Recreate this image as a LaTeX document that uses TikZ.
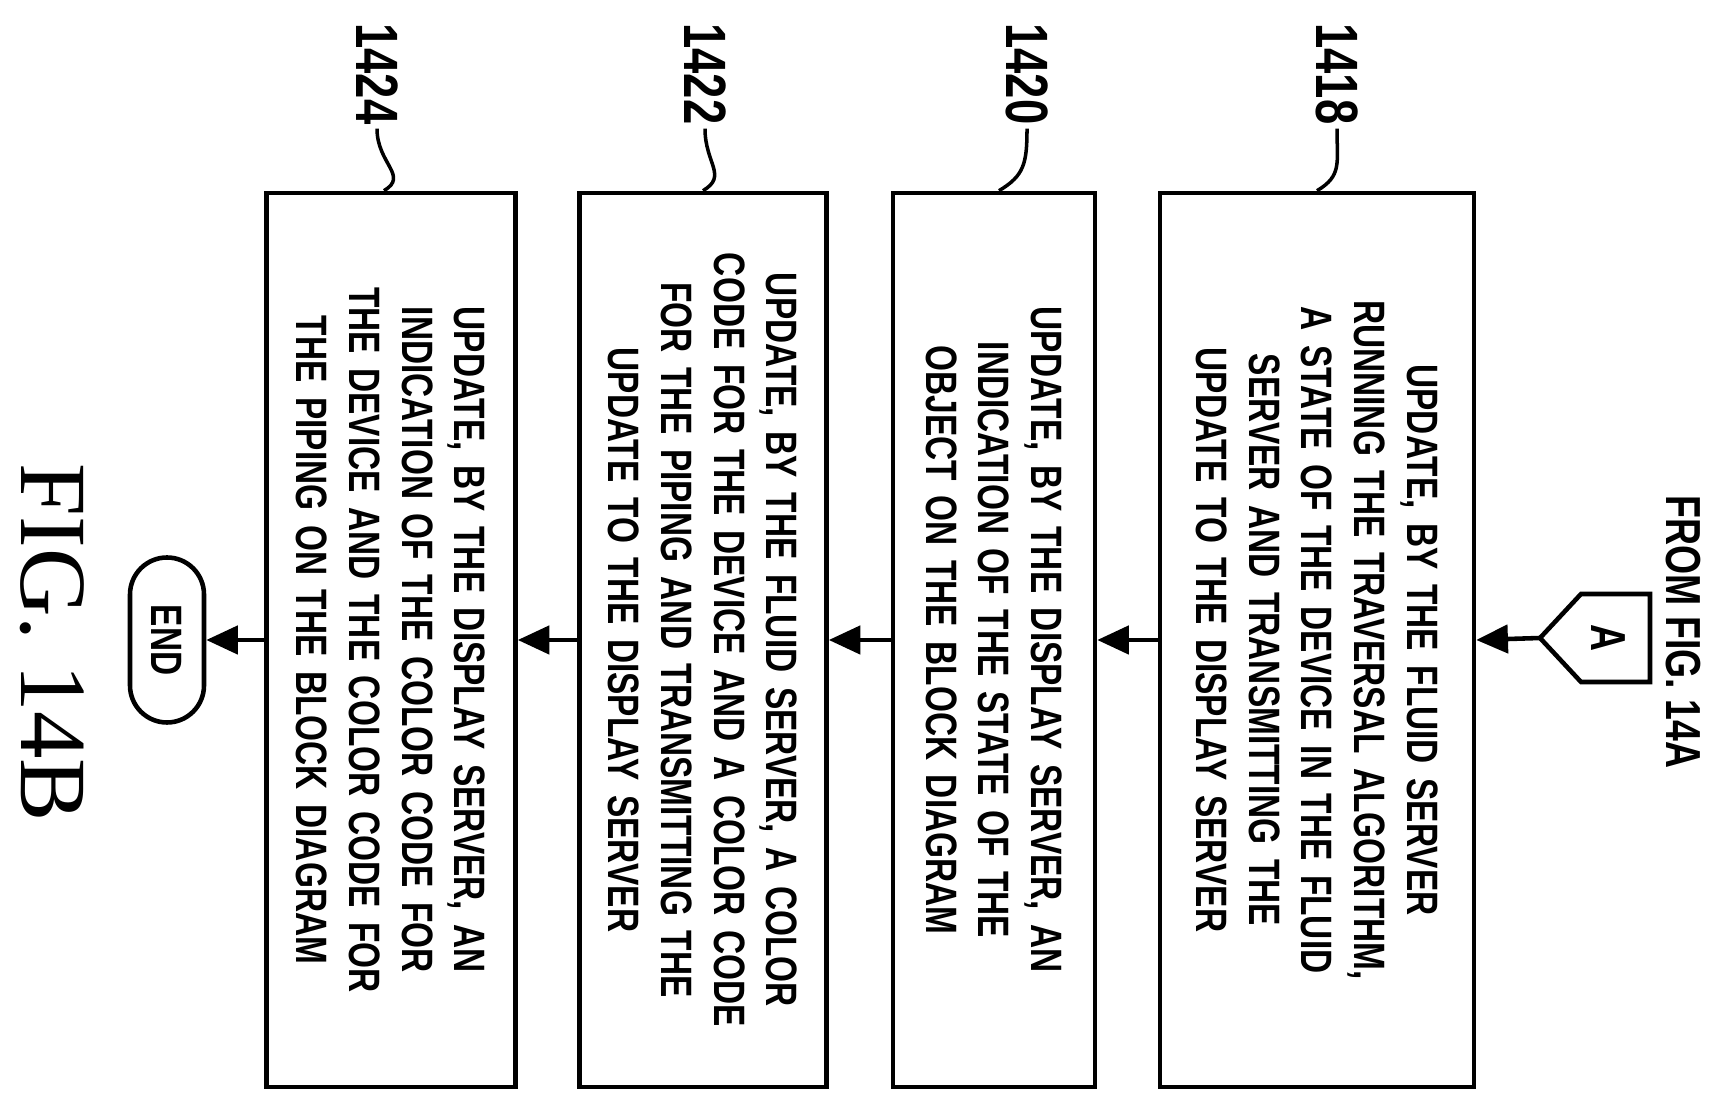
\documentclass[tikz,border=0pt]{standalone}
\usepackage{fontspec}
\setmainfont{Liberation Serif}
\newfontfamily\narrowfont[FakeStretch=0.76]{Liberation Sans}
\usetikzlibrary{arrows.meta, positioning, calc}

\begin{document}
\begin{tikzpicture}[
  stepbox/.style={draw, line width=1.3pt, rotate=-90, minimum width=8.94cm,
               text width=8.6cm, align=center, inner sep=0pt,
               font=\narrowfont\bfseries\fontsize{12.5}{15}\selectfont},
  ref/.style={rotate=-90, font=\narrowfont\bfseries\fontsize{17}{17}\selectfont, inner sep=1pt},
  arr/.style={-{Triangle[length=9pt, width=8pt]}, line width=1.3pt}
]
  \useasboundingbox (0,0) rectangle (17.15,11.03);

  % Steps
  \node[stepbox, minimum height=3.14cm] (b1418) at (13.17,4.63)
    {UPDATE, BY THE FLUID SERVER\\RUNNING THE TRAVERSAL ALGORITHM,\\A STATE OF THE DEVICE IN THE FLUID\\SERVER AND TRANSMITTING THE\\UPDATE TO THE DISPLAY SERVER};
  \node[stepbox, minimum height=2.02cm] (b1420) at (9.94,4.63)
    {UPDATE, BY THE DISPLAY SERVER, AN\\INDICATION OF THE STATE OF THE\\OBJECT ON THE BLOCK DIAGRAM};
  \node[stepbox, minimum height=2.47cm] (b1422) at (7.03,4.63)
    {UPDATE, BY THE FLUID SERVER, A COLOR\\CODE FOR THE DEVICE AND A COLOR CODE\\FOR THE PIPING AND TRANSMITTING THE\\UPDATE TO THE DISPLAY SERVER};
  \node[stepbox, minimum height=2.49cm] (b1424) at (3.91,4.63)
    {UPDATE, BY THE DISPLAY SERVER, AN\\INDICATION OF THE COLOR CODE FOR\\THE DEVICE AND THE COLOR CODE FOR\\THE PIPING ON THE BLOCK DIAGRAM};

  % End terminal
  \node[draw, line width=1.3pt, rotate=-90, rounded corners=0.37cm,
        minimum width=1.65cm, minimum height=0.74cm,
        font=\narrowfont\bfseries\fontsize{12.5}{15}\selectfont] (stop) at (1.67,4.63) {END};

  % Off-page connector
  \coordinate (atip) at (15.40,4.65);
  \draw[line width=1.3pt] (atip) -- (15.81,5.09) -- (16.50,5.09)
    -- (16.50,4.21) -- (15.81,4.21) -- cycle;
  \node[rotate=-90, font=\narrowfont\bfseries\fontsize{14}{14}\selectfont] (a) at (16.08,4.65) {A};
  \node[rotate=-90, font=\narrowfont\bfseries\fontsize{14}{14}\selectfont] (from) at (16.83,4.71) {FROM FIG. 14A};

  % Figure label
  \node[rotate=-90, font=\fontsize{27}{27}\selectfont] (fig) at (0.52,4.6) {FIG. 14B};

  % Reference numerals
  \node[ref] (l1418) at (13.37,10.29) {1418};
  \node[ref] (l1420) at (10.27,10.29) {1420};
  \node[ref] (l1422) at (7.05,10.29) {1422};
  \node[ref] (l1424) at (3.77,10.29) {1424};

  \foreach \n/\dx in {1418/0.0, 1420/0.05, 1422/0.0, 1424/-0.07} {
    \draw[line width=1pt] (l\n.east) .. controls +(0,-0.35) and +(0.25,0.15)
      .. ($(b\n.west)+(\dx,0)$);
  }

  % Arrows
  \draw[arr] (atip) -- (b1418.north);
  \draw[arr] (b1418.south) -- (b1420.north);
  \draw[arr] (b1420.south) -- (b1422.north);
  \draw[arr] (b1422.south) -- (b1424.north);
  \draw[arr] (b1424.south) -- (stop.north);
\end{tikzpicture}
\end{document}
